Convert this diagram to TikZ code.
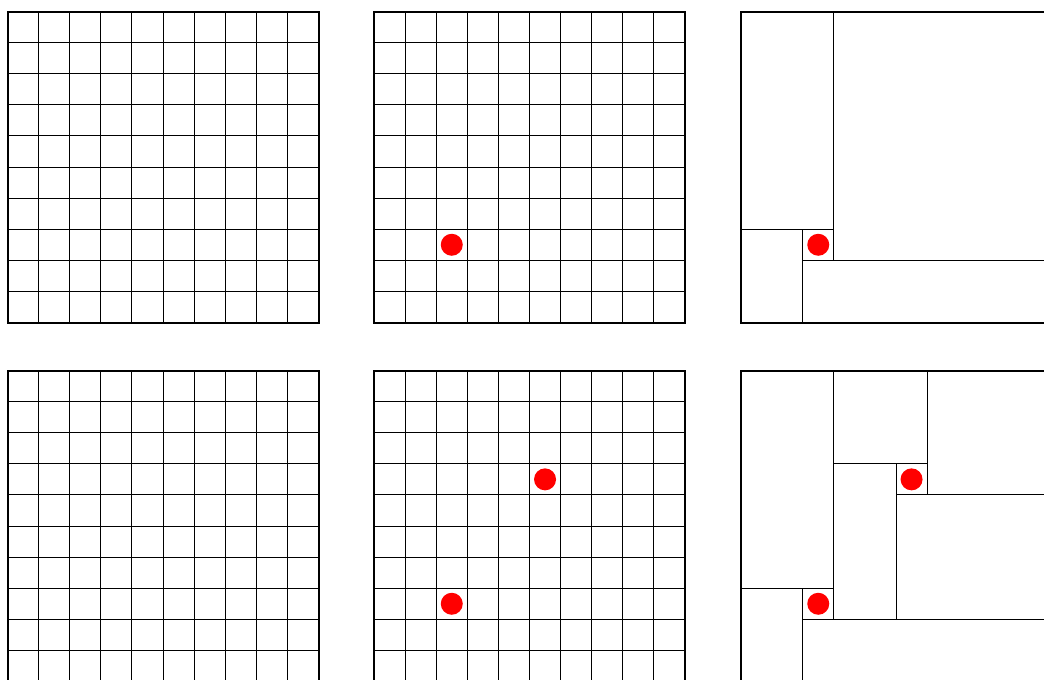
\documentclass[tikz,border=0pt]{standalone}
\begin{document}
\begin{tikzpicture}[x=0.75pt,y=-0.75pt,
  thinline/.style={line width=0.75pt, black},
  frameline/.style={line width=1.5pt, black},
  reddot/.style={circle, fill=red, draw=none, inner sep=0pt, minimum size=16.5pt},
  pics/tengrid/.style={code={
    \foreach \i in {1,...,9}{
      \draw[thinline] (\i*31.1,0) -- (\i*31.1,311);
      \draw[thinline] (0,\i*31.1) -- (311,\i*31.1);
    }
    \draw[frameline] (0,0) rectangle (311,311);
  }},
  pics/onecut/.style={code={
    \draw[thinline] (3*31.1,0) -- (3*31.1,8*31.1);
    \draw[thinline] (0,7*31.1) -- (3*31.1,7*31.1);
    \draw[thinline] (2*31.1,7*31.1) -- (2*31.1,311);
    \draw[thinline] (2*31.1,8*31.1) -- (311,8*31.1);
    \draw[frameline] (0,0) rectangle (311,311);
  }},
  pics/twocut/.style={code={
    \draw[thinline] (6*31.1,0) -- (6*31.1,4*31.1);
    \draw[thinline] (3*31.1,3*31.1) -- (6*31.1,3*31.1);
    \draw[thinline] (5*31.1,3*31.1) -- (5*31.1,8*31.1);
    \draw[thinline] (5*31.1,4*31.1) -- (311,4*31.1);
  }}
]
\useasboundingbox (0,0) rectangle (1044,679);
\clip (0,0) rectangle (1044,679);

% top row
\pic at (7.5,11.5) {tengrid};
\pic at (374,11.5) {tengrid};
\pic at (740.5,11.5) {onecut};
\node[reddot] (dA) at ({374+2.5*31.1},{11.5+7.5*31.1}) {};
\node[reddot] (dB) at ({740.5+2.5*31.1},{11.5+7.5*31.1}) {};

% bottom row
\pic at (7.5,370.5) {tengrid};
\pic at (374,370.5) {tengrid};
\pic at (740.5,370.5) {onecut};
\pic at (740.5,370.5) {twocut};
\node[reddot] (dC) at ({374+2.5*31.1},{370.5+7.5*31.1}) {};
\node[reddot] (dD) at ({374+5.5*31.1},{370.5+3.5*31.1}) {};
\node[reddot] (dE) at ({740.5+2.5*31.1},{370.5+7.5*31.1}) {};
\node[reddot] (dF) at ({740.5+5.5*31.1},{370.5+3.5*31.1}) {};
\end{tikzpicture}
\end{document}
